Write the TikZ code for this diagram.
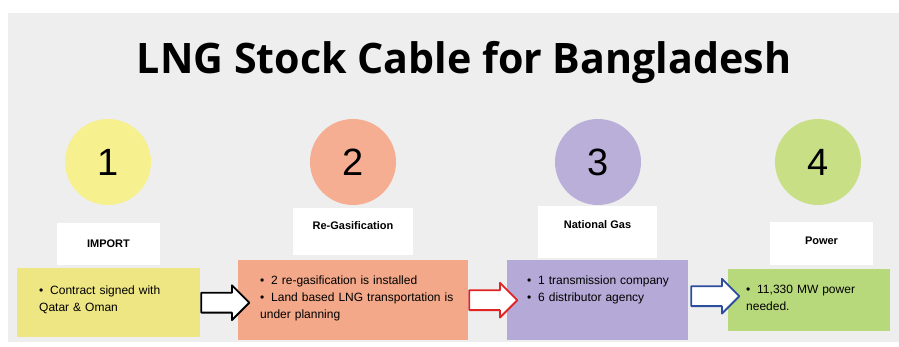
\documentclass[tikz,border=0pt]{standalone}
\usepackage{fontspec}
\setmainfont{Liberation Sans}
\newfontfamily\titlefont{Open Sans}
\usetikzlibrary{shapes.arrows,calc}

\definecolor{bggray}{HTML}{EEEEEE}
\definecolor{yelnum}{HTML}{F7F08E}
\definecolor{oranum}{HTML}{F6AE92}
\definecolor{purnum}{HTML}{B9AFD9}
\definecolor{grnnum}{HTML}{C9DF86}
\definecolor{yelbox}{HTML}{EEE682}
\definecolor{orabox}{HTML}{F3A88A}
\definecolor{purbox}{HTML}{B4A9D7}
\definecolor{grnbox}{HTML}{B8D87C}
\definecolor{arrred}{HTML}{E02424}
\definecolor{arrblue}{HTML}{2C4E9E}

\newcommand{\itm}[1]{\par\noindent\hangindent=11pt\hangafter=1\makebox[11pt][l]{\textbullet}#1}

\tikzset{
    num/.style={circle, fill=#1, minimum size=86pt, inner sep=0pt, font=\fontsize{38}{38}\selectfont},
    tag/.style={fill=white, inner sep=0pt, font=\bfseries\fontsize{11}{13}\selectfont},
    card/.style={fill=#1, anchor=north west, inner sep=0pt},
    pts/.style={anchor=north west, inner sep=0pt, text width=220pt, align=left, font=\fontsize{12}{17}\selectfont},
    blk/.style={single arrow, draw=#1, fill=white, line width=1.8pt, minimum height=48pt, text height=9pt, text depth=9pt,
        single arrow head extend=7.5pt, inner sep=0pt, anchor=tail, line join=round}
}

\begin{document}
\begin{tikzpicture}[x=1pt,y=-1pt]
            \useasboundingbox (0,0) rectangle (899,347);
            \fill[bggray] (8,13) rectangle (899,342);
            \node[font=\titlefont\bfseries\fontsize{42}{42}\selectfont] (title) at (464,62) {\scalebox{0.98}[1]{LNG Stock Cable for Bangladesh}};
            % numbered circles
            \foreach \n/\x/\c in {1/108/yelnum,2/353/oranum,3/598/purnum,4/818/grnnum} {
                \node[num=\c] (n\n) at (\x,162) {\n};
            }
            % headings
            \node[tag, minimum width=103pt, minimum height=42pt] (h1) at (108.5,244) {IMPORT};
            \node[tag, minimum width=120pt, minimum height=47pt, text depth=12pt] (h2) at (353,231.5) {Re-Gasification};
            \node[tag, minimum width=119pt, minimum height=52pt, text depth=14pt] (h3) at (597.5,232) {National Gas};
            \node[tag, minimum width=103pt, minimum height=43pt, text depth=6pt] (h4) at (821.5,243.5) {Power};
            % content boxes
            \node[card=yelbox, minimum width=183pt, minimum height=69pt] (b1) at (17,268) {};
            \node[card=orabox, minimum width=230pt, minimum height=80pt] (b2) at (238,260) {};
            \node[card=purbox, minimum width=181pt, minimum height=80pt] (b3) at (507,260) {};
            \node[card=grnbox, minimum width=162pt, minimum height=62pt] (b4) at (728,269) {};
            \node[pts] (t1) at (39,277) {\itm{Contract signed with\newline Qatar \& Oman}};
            \node[pts] (t2) at (260,267) {\itm{2 re-gasification is installed}\itm{Land based LNG transportation is\newline under planning}};
            \node[pts] (t3) at (527,267) {\itm{1 transmission company}\itm{6 distributor agency}};
            \node[pts] (t4) at (746,276) {\itm{11,330 MW power\newline needed.}};
            % arrows
            \node[blk=black] (a1) at (b1.east) {};
            \node[blk=arrred] (a2) at (b2.east) {};
            \node[blk=arrblue] (a3) at ($(b3.east)+(2,-4)$) {};
\end{tikzpicture}
\end{document}
